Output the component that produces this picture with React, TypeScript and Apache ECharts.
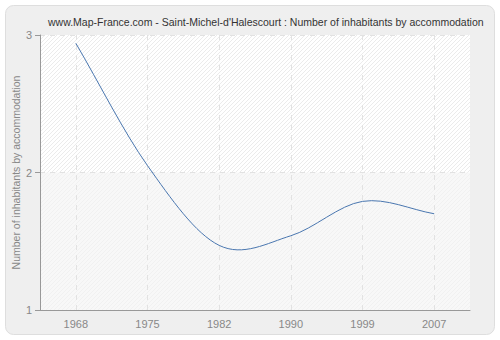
import React, { useEffect, useRef } from "react";
import * as echarts from "echarts";

const years = ["1968", "1975", "1982", "1990", "1999", "2007"];
const inhabitantsPerAccommodation = [2.94, 2.05, 1.47, 1.54, 1.79, 1.7];
const yTicks = { min: 1, max: 3, interval: 1 };
const titleText = "www.Map-France.com - Saint-Michel-d'Halescourt : Number of inhabitants by accommodation";
const yAxisName = "Number of inhabitants by accommodation";

function hatch(bg: string, stripe: string) {
  const size = 4;
  const c = document.createElement("canvas");
  c.width = size;
  c.height = size;
  const ctx = c.getContext("2d")!;
  ctx.fillStyle = bg;
  ctx.fillRect(0, 0, size, size);
  ctx.fillStyle = stripe;
  for (let y = 0; y < size; y++) {
    for (let x = 0; x < size; x++) {
      if ((x + y) % size === size - 1) ctx.fillRect(x, y, 1, 1);
    }
  }
  return { image: c, repeat: "repeat" };
}

export default function App() {
  const ref = useRef<HTMLDivElement>(null);
  useEffect(() => {
    if (!ref.current) return;
    const chart = echarts.init(ref.current, undefined, { renderer: "svg" });
    const font = "Liberation Sans";
    const n = inhabitantsPerAccommodation.length;
    chart.setOption({
      animation: false,
      backgroundColor: "#ffffff",
      textStyle: { fontFamily: font },
      graphic: [
        {
          type: "rect",
          z: -10,
          shape: { x: 5.5, y: 5.5, width: 489, height: 329, r: 8 },
          style: { fill: "#efefef", stroke: "#dedede", lineWidth: 1 },
        },
      ],
      title: {
        text: titleText,
        left: 43,
        top: 11,
        textStyle: { fontSize: 10.5, fontWeight: "normal", color: "#333", fontFamily: font },
      },
      grid: {
        left: 40,
        right: 30,
        top: 35,
        bottom: 30,
        containLabel: false,
        outerBoundsMode: "none",
        show: true,
        backgroundColor: "#fafafa",
        borderWidth: 0,
      },
      xAxis: {
        type: "category",
        data: years,
        boundaryGap: true,
        axisLine: { lineStyle: { color: "#999", width: 1 } },
        axisTick: { alignWithLabel: true, length: 5, lineStyle: { color: "#999" } },
        axisLabel: { color: "#888", fontSize: 11, margin: 8 },
        splitLine: {
          show: true,
          alignWithLabel: true,
          lineStyle: { color: "#e2e2e2", type: [5, 5], width: 1 },
        },
      },
      yAxis: {
        type: "value",
        min: yTicks.min,
        max: yTicks.max,
        interval: yTicks.interval,
        name: yAxisName,
        nameLocation: "middle",
        nameGap: 19,
        nameMoveOverlap: false,
        nameTextStyle: { color: "#888", fontSize: 10.5 },
        axisLine: { show: true, lineStyle: { color: "#999", width: 1 } },
        axisTick: { show: true, length: 5, lineStyle: { color: "#999" } },
        axisLabel: { color: "#888", fontSize: 11, margin: 8 },
        splitArea: {
          show: true,
          areaStyle: {
            color: [hatch("#f8f8f8", "#f1f1f1"), hatch("#ffffff", "#ebebeb")],
          },
        },
        splitLine: { show: true, lineStyle: { color: "#e2e2e2", type: [5, 5], width: 1 } },
      },
      series: [
        {
          type: "custom",
          coordinateSystem: "cartesian2d",
          encode: { x: 0, y: 1 },
          data: inhabitantsPerAccommodation.map((v, i) => [i, v]),
          renderItem: (params: any, api: any) => {
            const i = params.dataIndex;
            if (i >= n - 1) return null;
            const pt = (k: number) => api.coord([k, inhabitantsPerAccommodation[k]]);
            const p0 = pt(Math.max(i - 1, 0));
            const p1 = pt(i);
            const p2 = pt(i + 1);
            const p3 = pt(Math.min(i + 2, n - 1));
            const tan = (a: number[], b: number[], scale: number) => [
              (b[0] - a[0]) * scale,
              (b[1] - a[1]) * scale,
            ];
            const t1 = i === 0 ? tan(p1, p2, 1) : tan(p0, p2, 0.5);
            const t2 = i + 1 === n - 1 ? tan(p1, p2, 1) : tan(p1, p3, 0.5);
            return {
              type: "bezierCurve",
              shape: {
                x1: p1[0],
                y1: p1[1],
                cpx1: p1[0] + t1[0] / 3,
                cpy1: p1[1] + t1[1] / 3,
                cpx2: p2[0] - t2[0] / 3,
                cpy2: p2[1] - t2[1] / 3,
                x2: p2[0],
                y2: p2[1],
              },
              style: { stroke: "#4a77b0", lineWidth: 1, fill: "none" },
            };
          },
        },
      ],
    });
    return () => chart.dispose();
  }, []);
  return (
    <div
      ref={ref}
      style={{ position: "fixed", left: 0, top: 0, width: 500, height: 340 }}
    />
  );
}
